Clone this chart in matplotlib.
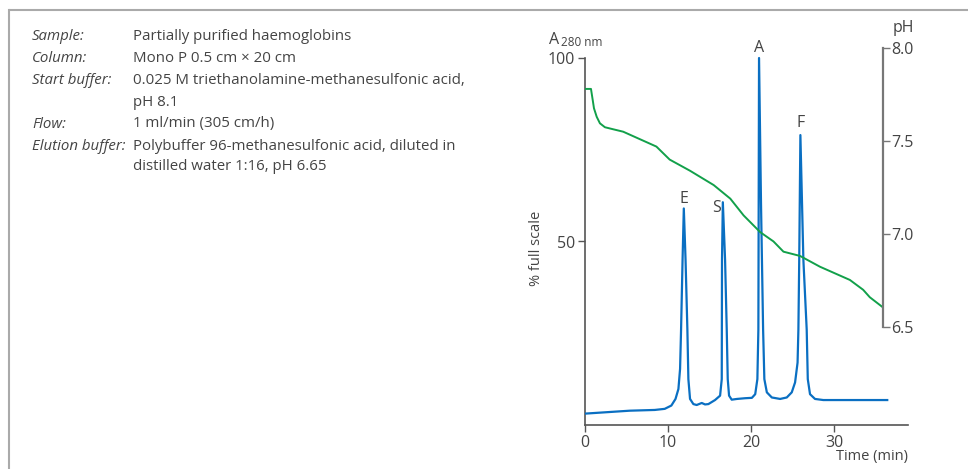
import matplotlib
matplotlib.use("Agg")
import matplotlib.pyplot as plt
from matplotlib.lines import Line2D

plt.rcParams['font.family'] = ['Open Sans', 'DejaVu Sans']

# A280 trace (% full scale)
time_a = [0.0, 5.4, 8.4, 9.6, 10.4, 10.9, 11.25, 11.45, 11.57, 11.75, 11.9,
          12.11, 12.33, 12.45, 12.65, 13.05, 13.45, 14.06, 14.46, 14.86, 15.66,
          16.27, 16.47, 16.5, 16.6, 16.87, 17.07, 17.19, 17.35, 17.67, 18.3,
          19.3, 20.1, 20.5, 20.76, 20.88, 20.96, 21.2, 21.45, 21.6, 21.9, 22.5,
          23.5, 24.3, 24.9, 25.3, 25.6, 25.7, 25.8, 25.94, 26.3, 26.7, 26.83,
          27.1, 27.7, 28.7, 36.4]
a280 = [3.1, 3.9, 4.1, 4.4, 5.3, 7.1, 9.8, 15.3, 26, 45, 59,
        45, 26, 12.5, 7.1, 5.7, 5.45, 6.0, 5.6, 5.7, 6.8,
        8.0, 12.5, 45, 60.7, 45, 26, 12.5, 8.0, 6.9, 7.1,
        7.3, 7.4, 8.4, 12.5, 26, 100, 60, 26, 12.5, 8.9, 7.5,
        7.1, 7.5, 8.9, 11.6, 17, 26, 45, 79, 45, 26, 12.5,
        8.4, 7.1, 6.8, 6.8]

# pH gradient
time_ph = [0.0, 0.72, 0.93, 1.08, 1.41, 1.8, 2.4, 3.4, 4.6, 6.6, 8.6, 10.2,
           12.65, 15.5, 17.5, 19.1, 21.1, 22.7, 23.9, 25.9, 28.3, 31.9, 33.5,
           34.3, 35.75]
ph = [7.78, 7.78, 7.72, 7.676, 7.63, 7.595, 7.574, 7.563, 7.55, 7.51, 7.47, 7.40,
      7.34, 7.263, 7.19, 7.10, 7.01, 6.96, 6.905, 6.882, 6.824, 6.753, 6.70,
      6.66, 6.61]

peak_names = ["E", "S", "A", "F"]
peak_times = [11.9, 16.6, 20.96, 25.94]
peak_values = [59, 60.7, 100, 79]

info_keys = ["Sample:", "Column:", "Start buffer:", "", "Flow:", "Elution buffer:", ""]
info_vals = ["Partially purified haemoglobins",
             "Mono P 0.5 cm \u00d7 20 cm",
             "0.025 M triethanolamine-methanesulfonic acid,",
             "pH 8.1",
             "1 ml/min (305 cm/h)",
             "Polybuffer 96-methanesulfonic acid, diluted in",
             "distilled water 1:16, pH 6.65"]

W, H = 968, 469
fig = plt.figure(figsize=(W / 100, H / 100), dpi=100)

def fx(px):
    return px / W

def fy(py):
    return 1 - py / H

TXT = '#444444'

# grey frame (top and left edges)
fig.add_artist(Line2D([fx(10), 1], [fy(10), fy(10)], color='#aaaaaa', lw=1.5))
fig.add_artist(Line2D([fx(9), fx(9)], [fy(10), 0], color='#aaaaaa', lw=1.5))

# info block
line_y = [37, 59, 81, 102, 124, 146, 167]
for k, v, y in zip(info_keys, info_vals, line_y):
    if k:
        fig.text(fx(32), fy(y), k, style='italic', fontsize=10.8, color=TXT, va='center')
    fig.text(fx(133), fy(y), v, fontsize=10.8, color=TXT, va='center')

ax = fig.add_axes([fx(585), fy(425), fx(908) - fx(585), fy(48) - fy(425)])
ax.set_xlim(0, 38.9)
ax.set_ylim(0, 100 + 10 / 3.67)
ax.plot(time_a, a280, color='#0a6fc2', lw=1.6, zorder=3)

ax.spines['top'].set_visible(False)
ax.spines['right'].set_visible(False)
ax.spines['left'].set_bounds(0, 100)
for s in ('left', 'bottom'):
    ax.spines[s].set_color('#555555')
    ax.spines[s].set_linewidth(1.2)
ax.set_yticks([50, 100])
ax.set_xticks([0, 10, 20, 30])
ax.tick_params(axis='both', direction='out', length=5, width=1, color='#555555',
               labelsize=11.5, labelcolor=TXT, pad=2)

# peak labels, offsets in points
label_offsets = [(0, 6.5), (-4.3, -4.5), (0, 7.2), (0, 8.6)]
for name, t, v, off in zip(peak_names, peak_times, peak_values, label_offsets):
    ax.annotate(name, (t, v), xytext=off, textcoords='offset points',
                ha='center', va='center', fontsize=11.5, color=TXT)

ax2 = ax.twinx()
ax2.set_ylim(8.0 - 377 / 186, 8.0)
ax2.plot(time_ph, ph, color='#12a04a', lw=1.4, zorder=2)
for s in ('top', 'left', 'bottom'):
    ax2.spines[s].set_visible(False)
ax2.spines['right'].set_position(('data', 35.9))
ax2.spines['right'].set_bounds(6.5, 8.0)
ax2.spines['right'].set_color('#777777')
ax2.spines['right'].set_linewidth(1.6)
ax2.set_yticks([6.5, 7.0, 7.5, 8.0])
ax2.set_yticklabels(['6.5', '7.0', '7.5', '8.0'])
ax2.tick_params(axis='y', direction='out', length=5, width=1, color='#777777',
                labelsize=11.5, labelcolor=TXT, pad=1)

# axis titles
fig.text(fx(549), fy(40), "A", fontsize=11.5, color=TXT, va='center')
fig.text(fx(561), fy(42), "280 nm", fontsize=8.5, color=TXT, va='center')
fig.text(fx(537), fy(248), "% full scale", rotation=90, fontsize=10.5,
         color=TXT, ha='center', va='center')
fig.text(fx(903), fy(28), "pH", fontsize=11.5, color=TXT, ha='center', va='center')
fig.text(fx(908), fy(456), "Time (min)", fontsize=10.5, color=TXT, ha='right', va='center')

fig.savefig("out.png", dpi=100)
